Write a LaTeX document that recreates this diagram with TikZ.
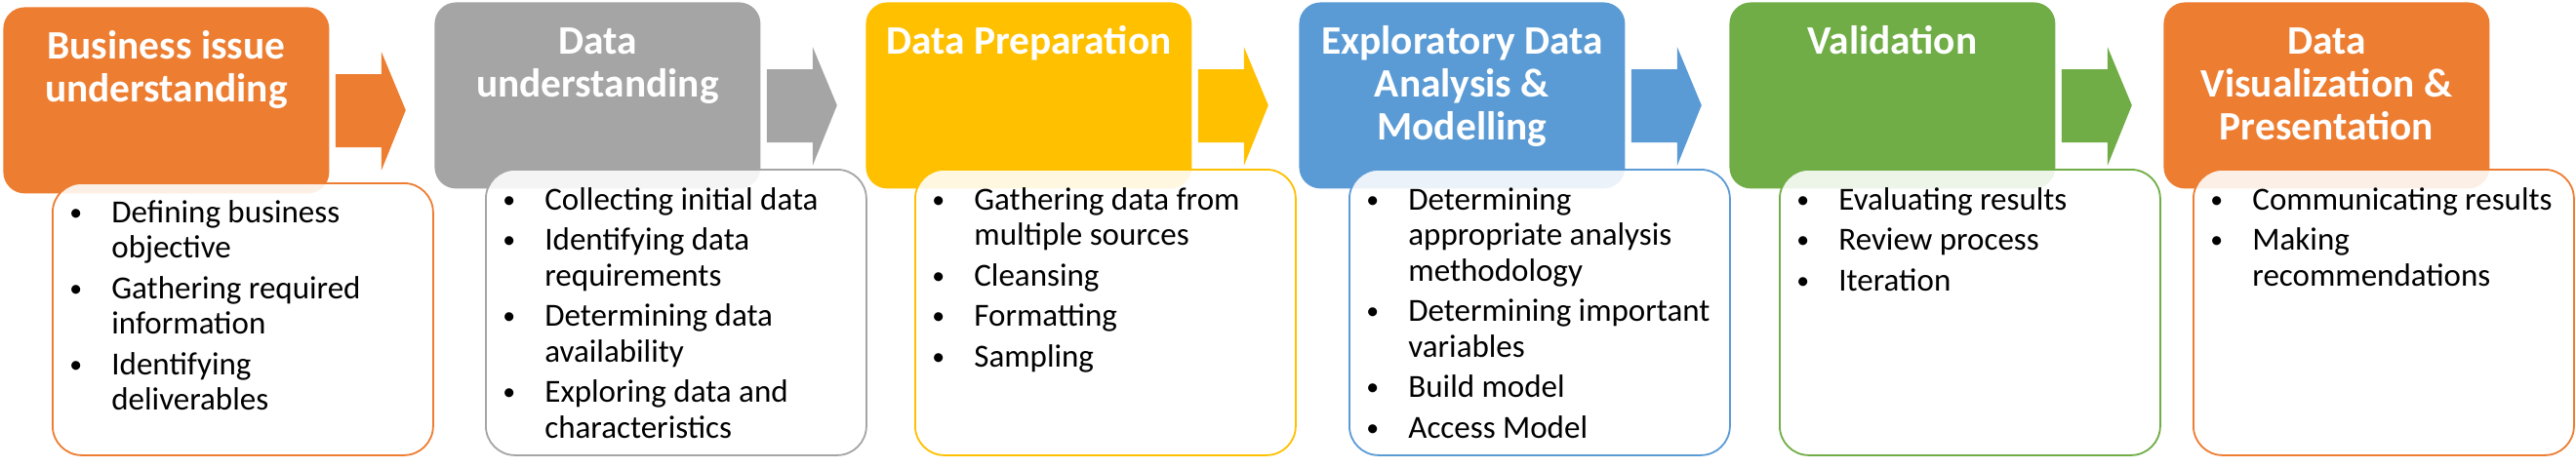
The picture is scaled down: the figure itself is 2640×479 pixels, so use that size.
\documentclass[tikz,border=0pt]{standalone}
\usepackage{fontspec}
\setmainfont{Carlito}
\usetikzlibrary{calc}
\definecolor{cOrange}{HTML}{ED7D31}
\definecolor{cGray}{HTML}{A5A5A5}
\definecolor{cYellow}{HTML}{FFC000}
\definecolor{cBlue}{HTML}{5B9BD5}
\definecolor{cGreen}{HTML}{70AD47}
\newcommand\bl{\makebox[21.5pt][l]{\raisebox{0.06em}{\scalebox{0.78}{\textbullet}}}}
\tikzset{
  hdr/.style={rounded corners=11pt, minimum width=167pt, minimum height=95.5pt, anchor=north west, inner sep=0pt, draw=none},
  ttl/.style={text=white, font=\fontsize{20.7}{22}\selectfont\bfseries, anchor=base, inner sep=0pt},
  bbox/.style={rounded corners=15pt, minimum width=195pt, minimum height=146.5pt, anchor=north west, inner sep=0pt, line width=0.9pt, fill=white, fill opacity=0.88},
  btxt/.style={font=\fontsize{16.5}{18.25}\selectfont, anchor=base west, inner sep=0pt, text=black},
}
\begin{document}
\begin{tikzpicture}[x=0.5pt,y=-0.5pt]
\useasboundingbox (0,0) rectangle (2640,479);
% headers
\node[hdr, fill=cOrange] (h1) at (3,7) {};
\node[hdr, fill=cGray]   (h2) at (445,2) {};
\node[hdr, fill=cYellow] (h3) at (887,2) {};
\node[hdr, fill=cBlue]   (h4) at (1331,2) {};
\node[hdr, fill=cGreen]  (h5) at (1772,2) {};
\node[hdr, fill=cOrange] (h6) at (2217,2) {};
% titles
\node[ttl] (t1) at ($(h1.north)+(0,53)$) {\begin{tabular}[t]{@{}c@{}}Business issue\\understanding\end{tabular}};
\node[ttl] (t2) at ($(h2.north)+(0,53)$) {\begin{tabular}[t]{@{}c@{}}Data\\understanding\end{tabular}};
\node[ttl] (t3) at ($(h3.north)+(0,53)$) {\begin{tabular}[t]{@{}c@{}}Data Preparation\end{tabular}};
\node[ttl] (t4) at ($(h4.north)+(0,53)$) {\begin{tabular}[t]{@{}c@{}}Exploratory Data\\Analysis \&\\Modelling\end{tabular}};
\node[ttl] (t5) at ($(h5.north)+(0,53)$) {\begin{tabular}[t]{@{}c@{}}Validation\end{tabular}};
\node[ttl] (t6) at ($(h6.north)+(0,53)$) {\begin{tabular}[t]{@{}c@{}}Data\\Visualization \&\\Presentation\end{tabular}};
% block arrows between headers
\foreach \a/\c in {h1/cOrange,h2/cGray,h3/cYellow,h4/cBlue,h5/cGreen}{
  \fill[\c] ($(\a.north east)+(6,69)$) -- ($(\a.north east)+(53,69)$) -- ($(\a.north east)+(53,46)$)
    -- ($(\a.north east)+(78,106)$) -- ($(\a.north east)+(53,168)$) -- ($(\a.north east)+(53,144)$)
    -- ($(\a.north east)+(6,144)$) -- cycle;
}
% bullet boxes
\node[bbox, draw=cOrange, minimum height=139.5pt] (b1) at (53,187) {};
\node[bbox, draw=cGray]   (b2) at (497,173) {};
\node[bbox, draw=cYellow] (b3) at (937,173) {};
\node[bbox, draw=cBlue]   (b4) at (1382,173) {};
\node[bbox, draw=cGreen]  (b5) at (1823,173) {};
\node[bbox, draw=cOrange] (b6) at (2247,173) {};
% bullet texts
\node[btxt] (l1) at ($(b1.north west)+(18,41)$) {\begin{tabular}[t]{@{}l@{}l@{}}
\bl & Defining business\\ & objective\\[2.5pt]
\bl & Gathering required\\ & information\\[2.5pt]
\bl & Identifying\\ & deliverables\end{tabular}};
\node[btxt] (l2) at ($(b2.north west)+(18,42)$) {\begin{tabular}[t]{@{}l@{}l@{}}
\bl & Collecting initial data\\[2.5pt]
\bl & Identifying data\\ & requirements\\[2.5pt]
\bl & Determining data\\ & availability\\[2.5pt]
\bl & Exploring data and\\ & characteristics\end{tabular}};
\node[btxt] (l3) at ($(b3.north west)+(18,42)$) {\begin{tabular}[t]{@{}l@{}l@{}}
\bl & Gathering data from\\ & multiple sources\\[2.5pt]
\bl & Cleansing\\[2.5pt]
\bl & Formatting\\[2.5pt]
\bl & Sampling\end{tabular}};
\node[btxt] (l4) at ($(b4.north west)+(18,42)$) {\begin{tabular}[t]{@{}l@{}l@{}}
\bl & Determining\\ & appropriate analysis\\ & methodology\\[2.5pt]
\bl & Determining important\\ & variables\\[2.5pt]
\bl & Build model\\[2.5pt]
\bl & Access Model\end{tabular}};
\node[btxt] (l5) at ($(b5.north west)+(18,42)$) {\begin{tabular}[t]{@{}l@{}l@{}}
\bl & Evaluating results\\[2.5pt]
\bl & Review process\\[2.5pt]
\bl & Iteration\end{tabular}};
\node[btxt] (l6) at ($(b6.north west)+(18,42)$) {\begin{tabular}[t]{@{}l@{}l@{}}
\bl & Communicating results\\[2.5pt]
\bl & Making\\ & recommendations\end{tabular}};
\end{tikzpicture}
\end{document}
